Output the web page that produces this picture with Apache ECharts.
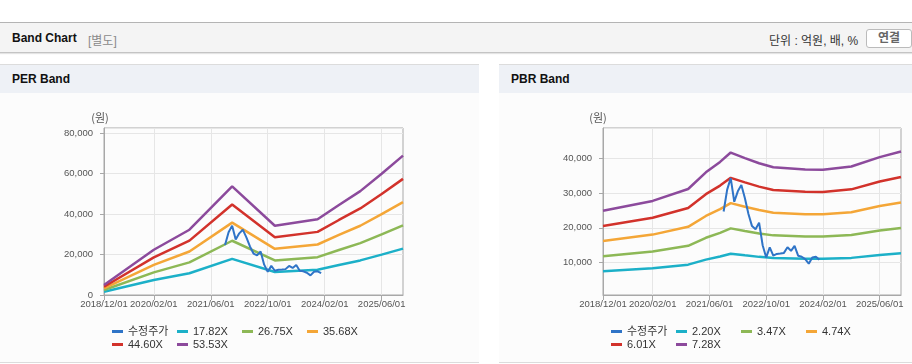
<!DOCTYPE html>
<html><head><meta charset="utf-8">
<script src="https://cdn.jsdelivr.net/npm/echarts@6/dist/echarts.min.js"></script>
<style>
html,body{margin:0;padding:0;width:912px;height:364px;overflow:hidden;background:#fff;font-family:"Liberation Sans","Noto Sans CJK KR",sans-serif;}
#topline{position:absolute;left:0;top:22px;width:912px;height:1px;background:#b4b4b4;}
#hdr{position:absolute;left:0;top:23px;width:912px;height:29px;background:#f4f4f4;border-bottom:1px solid #c4c4c4;box-shadow:0 1px 1px #e4e4e4;}
#hdr .t{position:absolute;left:12px;top:8px;font-size:12px;font-weight:bold;color:#111;}
#hdr .s{position:absolute;left:88px;top:8px;font-size:12px;color:#8a8a8a;}
#hdr .u{position:absolute;left:769px;top:8px;font-size:12px;color:#333;}
#btn{position:absolute;left:866px;top:6px;width:44px;height:17px;border:1px solid #bbb;border-radius:3px;background:#fff;font-size:12px;font-weight:bold;color:#666;text-align:center;line-height:17px;}
.panel{position:absolute;top:64px;height:297px;border-top:1px solid #dcdcdc;border-bottom:1px solid #dcdcdc;background:#fcfcfc;}
.ph{height:28px;background:#eef1f6;font-size:12px;font-weight:bold;color:#111;padding-left:12px;line-height:29px;}
#chart{position:absolute;left:0;top:93px;width:912px;height:271px;}
</style></head>
<body>
<div id="topline"></div>
<div id="hdr"><span class="t">Band Chart</span><span class="s">[별도]</span><span class="u">단위 : 억원, 배, %</span><div id="btn">연결</div></div>
<div class="panel" style="left:0;width:479px;"><div class="ph">PER Band</div></div>
<div class="panel" style="left:499px;width:413px;"><div class="ph" style="padding-left:12px;">PBR Band</div></div>
<div id="chart"></div>
<script>
// monthly categories 2018/12/01 .. 2025/12/01
const months = [];
for (let y = 2018, m = 12; y < 2025 || (y === 2025 && m <= 12); ) {
  months.push(y + '/' + String(m).padStart(2, '0') + '/01');
  m++; if (m > 12) { m = 1; y++; }
}
const tickLabels = ['2018/12/01','2020/02/01','2021/06/01','2022/10/01','2024/02/01','2025/06/01'];

// adjusted price (수정주가), monthly
const priceDates = ['2021/10/01','2021/11/01','2021/12/01','2022/01/01','2022/02/01','2022/03/01','2022/04/01','2022/05/01','2022/06/01','2022/07/01','2022/08/01','2022/09/01','2022/10/01','2022/11/01','2022/12/01','2023/01/01','2023/02/01','2023/03/01','2023/04/01','2023/05/01','2023/06/01','2023/07/01','2023/08/01','2023/09/01','2023/10/01','2023/11/01','2023/12/01','2024/01/01'];
const price = [24700,31000,34300,27500,30500,32300,28500,24000,20500,19600,21500,15000,11500,14400,12000,12500,12600,12800,14400,13400,14800,12000,11700,11000,9700,11500,11700,10800];

// PER band
const perNames = ['17.82X','26.75X','35.68X','44.60X','53.53X'];
const perDates = ['2018/12/01','2020/02/01','2020/12/01','2021/12/01','2022/12/01','2023/12/01','2024/06/01','2024/12/01','2025/06/01','2025/12/01'];
const per1782 = [1640,7450,10750,17870,11400,12470,14830,17110,19960,22950];
const per2675 = [2460,11180,16130,26830,17120,18730,22260,25680,29960,34450];
const per3568 = [3280,14910,21520,35790,22840,24980,29690,34250,39960,45960];
const per4460 = [4100,18640,26890,44730,28540,31220,37110,42820,49950,57440];
const per5353 = [4920,22380,32280,53690,34260,37470,44540,51390,59950,68950];

// PBR band
const pbrNames = ['2.20X','3.47X','4.74X','6.01X','7.28X'];
const pbrDates = ['2018/12/01','2020/02/01','2020/12/01','2021/05/01','2021/09/01','2021/12/01','2022/04/01','2022/08/01','2022/12/01','2023/09/01','2024/02/01','2024/10/01','2025/06/01','2025/12/01'];
const pbr220 = [7520,8380,9420,10870,11770,12580,12100,11660,11310,11110,11090,11370,12190,12670];
const pbr347 = [11870,13220,14850,17140,18560,19850,19090,18390,17840,17520,17490,17940,19220,19990];
const pbr474 = [16210,18060,20290,23420,25360,27110,26070,25120,24360,23940,23890,24510,26260,27300];
const pbr601 = [20550,22900,25720,29690,32150,34380,33060,31850,30890,30350,30290,31070,33300,34620];
const pbr728 = [24900,27740,31160,35960,38950,41640,40040,38580,37420,36760,36690,37640,40330,41930];

const priceName = '수정주가';
const priceColor = '#2f74c7';
const bandColors = ['#1cb0c8','#8db856','#f4a637','#d2322b','#8c4a9c'];
const FONT = '"Liberation Sans","Noto Sans CJK KR",sans-serif';

const chart = echarts.init(document.getElementById('chart'), null, {renderer: 'canvas'});
const showTick = (idx, val) => tickLabels.indexOf(val) >= 0;

function xAxis(gi) {
  return {
    gridIndex: gi, type: 'category', data: months, boundaryGap: false,
    axisLine: {lineStyle: {color: '#a8a8a8'}},
    axisTick: {show: true, interval: showTick, length: 5, lineStyle: {color: '#a8a8a8'}},
    axisLabel: {interval: showTick, color: '#555', fontSize: 9.5, fontFamily: FONT, margin: 5},
    splitLine: {show: true, interval: showTick, lineStyle: {color: '#e6e6e6'}}
  };
}
function yAxis(gi, min, max) {
  return {
    gridIndex: gi, type: 'value', min: min, max: max,
    axisLine: {show: true, lineStyle: {color: '#a8a8a8'}},
    axisTick: {show: true, length: 4, lineStyle: {color: '#a8a8a8'}},
    axisLabel: {color: '#555', fontSize: 9.5, fontFamily: FONT, margin: 11, showMinLabel: min === 0, showMaxLabel: false,
      formatter: v => Number(v).toLocaleString('en-US')},
    splitLine: {show: true, lineStyle: {color: '#e6e6e6'}}
  };
}
function line(name, dates, vals, color, gi, width, z) {
  return {
    name: name, type: 'line', xAxisIndex: gi, yAxisIndex: gi,
    data: dates.map((d, i) => [d, vals[i]]),
    symbol: 'none', z: z,
    lineStyle: {width: width, color: color}, itemStyle: {color: color}
  };
}
function legend(left, names) {
  return {
    left: left, top: 227, width: 262, itemGap: 0, itemWidth: 11, itemHeight: 3, icon: 'rect',
    data: [priceName].concat(names),
    textStyle: {fontSize: 11, color: '#333', fontFamily: FONT, width: 49, lineHeight: 13}
  };
}

const perSeries = [per1782, per2675, per3568, per4460, per5353];
const pbrSeries = [pbr220, pbr347, pbr474, pbr601, pbr728];
const series = [line(priceName, priceDates, price, priceColor, 0, 2, 4)];
perNames.forEach((n, i) => series.push(line(n, perDates, perSeries[i], bandColors[i], 0, 2.5, 2)));
series.push(line(priceName, priceDates, price, priceColor, 1, 2, 4));
pbrNames.forEach((n, i) => series.push(line(n, pbrDates, pbrSeries[i], bandColors[i], 1, 2.5, 2)));

chart.setOption({
  animation: false,
  grid: [
    {left: 104, top: 35, width: 299, height: 167, show: true, borderColor: '#a8a8a8', borderWidth: 1, backgroundColor: 'transparent'},
    {left: 603, top: 35, width: 298, height: 167, show: true, borderColor: '#a8a8a8', borderWidth: 1, backgroundColor: 'transparent'}
  ],
  xAxis: [xAxis(0), xAxis(1)],
  yAxis: [yAxis(0, 0, 82600), yAxis(1, 700, 48700)],
  legend: [legend(107, perNames), legend(606, pbrNames)],
  graphic: [
    {type: 'text', x: 100, y: 25, style: {text: '(원)', fill: '#555', font: '11px "Noto Sans CJK KR"', align: 'center', verticalAlign: 'middle'}},
    {type: 'text', x: 598, y: 25, style: {text: '(원)', fill: '#555', font: '11px "Noto Sans CJK KR"', align: 'center', verticalAlign: 'middle'}}
  ],
  series: series
});
</script>
</body></html>
